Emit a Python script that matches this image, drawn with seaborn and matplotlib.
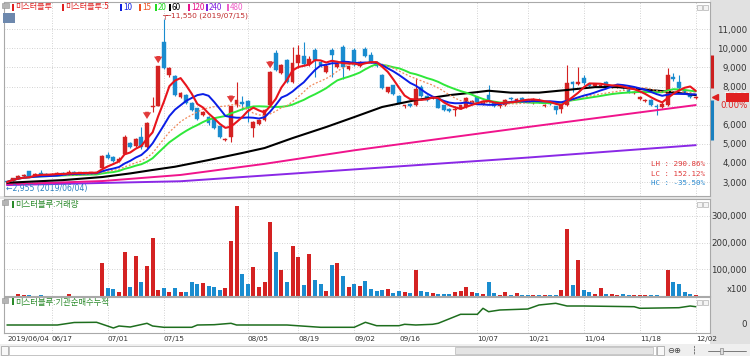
import numpy as np
import pandas as pd
import matplotlib
matplotlib.use("Agg")
import matplotlib.pyplot as plt
from matplotlib.patches import Rectangle
from matplotlib.lines import Line2D
import seaborn as sns

# ---------------- data ----------------
holidays = ["2019-06-06", "2019-08-15", "2019-09-12", "2019-09-13", "2019-10-03", "2019-10-09"]
trade_dates = [d for d in pd.bdate_range("2019-06-04", "2019-12-02")
               if d.strftime("%Y-%m-%d") not in holidays]

opens = [3040, 3050, 3200, 3300, 3580, 3340, 3480, 3420, 3380, 3400, 3480, 3420, 3520, 3450, 3520, 3470, 3520,
         3730, 4400, 4300, 4100, 4470, 5040, 4880, 5350, 4830, 6950, 6980, 10330, 8600, 8550, 7450, 7550, 7140,
         6870, 6500, 6400, 6350, 5930, 5200, 5360, 7050, 7200, 7250, 5830, 6050, 6250, 7030, 9750, 8700, 9380,
         8240, 9230, 9600, 9200, 9910, 9300, 8750, 9910, 9000, 10070, 8900, 9910, 9050, 9960, 9650, 9300, 8600,
         7710, 8080, 7500, 6980, 7100, 7030, 7950, 7500, 7400, 7400, 7030, 6800, 6750, 6820, 6930, 7150, 7450,
         7100, 7550, 7150, 7000, 7050, 7400, 7250, 7400, 7300, 7150, 7300, 7000, 7150, 6960, 6800, 7030, 8250,
         8150, 8450, 8150, 8050, 8050, 8250, 7950, 7950, 8000, 7950, 7650, 7350, 7250, 7300, 7000, 6950, 7030,
         8500, 8240, 7800, 7550, 7400]
highs = [3060, 3230, 3380, 3420, 3600, 3450, 3650, 3450, 3450, 3500, 3520, 3650, 3560, 3540, 3550, 3540, 3560,
         4400, 4570, 4380, 4300, 5450, 5100, 5300, 5880, 6150, 7450, 9070, 11550, 9000, 8600, 7700, 7600, 7200,
         6900, 6700, 6450, 6400, 5950, 5300, 7000, 8240, 7500, 7300, 6200, 6300, 6800, 8800, 9910, 9200, 9450,
         10070, 10170, 10330, 9600, 10000, 9400, 9200, 10000, 9300, 10200, 9100, 10000, 9350, 10050, 9800, 9350,
         8650, 8000, 8100, 7550, 7050, 7150, 8450, 8100, 7550, 7500, 7450, 7050, 6850, 7000, 7050, 7450, 7300,
         7500, 7300, 8080, 7200, 7150, 7350, 7450, 7400, 7450, 7350, 7400, 7400, 7100, 7200, 7000, 7050, 9130,
         8300, 9020, 8600, 8200, 8200, 8150, 8300, 8100, 8050, 8050, 8000, 7750, 7500, 7350, 7350, 7100, 7200,
         8970, 8700, 8600, 7850, 7600, 7500]
lows = [2955, 3040, 3180, 3280, 3300, 3320, 3380, 3350, 3360, 3380, 3400, 3410, 3430, 3440, 3460, 3450, 3470,
        3720, 4200, 4050, 4050, 4450, 4800, 4850, 4750, 4800, 6660, 6980, 8900, 8500, 7500, 7400, 7100, 6700,
        6250, 6450, 6000, 5800, 5300, 5150, 5100, 6950, 6770, 6140, 5360, 6000, 6200, 7000, 8800, 8650, 8200,
        8200, 8970, 9100, 9100, 8500, 9000, 8700, 8500, 8950, 8400, 8850, 9050, 9000, 9550, 9250, 9000, 7850,
        7650, 7550, 7100, 6900, 6950, 7000, 7450, 7250, 7350, 6850, 6700, 6650, 6450, 6800, 6900, 7100, 7100,
        7050, 7150, 6950, 6900, 7000, 7300, 7200, 7250, 7200, 7100, 7150, 6950, 7050, 6550, 6600, 7000, 7700,
        8100, 8100, 8000, 8000, 8000, 7950, 7900, 7900, 7850, 7650, 7600, 7300, 7200, 7000, 6510, 6900, 7000,
        8300, 7850, 7600, 7400, 7350]
closes = [3000, 3200, 3330, 3380, 3330, 3420, 3400, 3380, 3420, 3480, 3420, 3500, 3450, 3500, 3480, 3510, 3490,
          4360, 4250, 4100, 4200, 5350, 4830, 5250, 4830, 6090, 7000, 9070, 8970, 8970, 7550, 7650, 7140, 6770,
          6300, 6650, 6090, 5830, 5360, 5250, 6980, 7300, 7100, 6950, 6140, 6250, 6770, 8760, 8860, 9120, 8240,
          9230, 9650, 9200, 9450, 9390, 9150, 9100, 9650, 9200, 9020, 9050, 9130, 9300, 9600, 9300, 9050, 7920,
          7970, 7610, 7140, 7000, 7000, 7870, 7500, 7300, 7450, 6870, 6750, 6700, 6800, 7030, 7400, 7250, 7150,
          7250, 7200, 6980, 7050, 7300, 7350, 7350, 7300, 7250, 7350, 7200, 7050, 7100, 6770, 7030, 8180, 8150,
          8250, 8180, 8050, 8150, 8100, 8000, 8000, 8000, 7900, 7700, 7700, 7450, 7300, 7050, 6950, 7100, 8600,
          8400, 7920, 7650, 7450, 7450]
volumes = [1500, 1000, 7500, 3700, 3700, 1500, 3700, 1500, 1000, 1500, 1000, 6000, 1500, 1000, 1000, 1500, 1500,
           125000, 31000, 25000, 15000, 163000, 32500, 150000, 53700, 112000, 216000, 22500, 28700, 15000, 31000,
           15000, 15000, 53700, 45000, 47500, 37500, 35000, 22500, 31000, 206000, 335000, 82400, 43700, 110000,
           35000, 53700, 278000, 166000, 97400, 51000, 187000, 145000, 41000, 156000, 60000, 43700, 18700, 116000,
           122000, 75000, 33700, 43700, 37500, 56000, 25000, 20000, 22500, 25000, 12500, 18700, 15000, 10000,
           97400, 20000, 15000, 12500, 7500, 7500, 7500, 16000, 20000, 32500, 15000, 10000, 7500, 52400, 12500,
           5000, 15000, 5000, 10000, 5000, 2500, 2500, 4000, 2500, 2500, 5000, 22500, 251000, 41000, 135000,
           22500, 15000, 7500, 28700, 7500, 7500, 5000, 7500, 4000, 2500, 2500, 2500, 2500, 2500, 1000, 97400,
           53700, 45000, 13700, 7500, 5000]

ma60_idx = [0, 10, 17, 22, 26, 30, 36, 42, 46, 51, 57, 62, 67, 73, 79, 84, 86, 90, 95, 100, 105, 109, 113, 117, 120, 123]
ma60_val = [2960, 3100, 3260, 3450, 3630, 3800, 4150, 4520, 4780, 5300, 5880, 6400, 6930, 7290, 7550, 7710, 7780,
            7680, 7680, 7820, 7970, 7970, 7870, 7760, 7660, 7550]
ma120_idx = [0, 17, 31, 46, 62, 93, 123]
ma120_val = [2880, 3050, 3370, 3950, 4660, 5880, 7030]
ma240_idx = [0, 31, 62, 93, 123]
ma240_val = [2840, 3040, 3660, 4280, 4930]

inst_idx = [0, 9, 12, 16, 19, 20, 22, 25, 26, 28, 33, 34, 37, 40, 41, 50, 56, 62, 64, 66, 70, 71, 73, 76, 77,
            81, 84, 85, 86, 88, 93, 95, 98, 100, 103, 112, 113, 120, 122, 123]
inst_val = [-1500, -1500, 1000, 1200, -4500, -2500, -3500, 200, -2500, -3800, -3800, -1500, -1200, 200, -1500,
            -1500, -3800, -3800, 1200, -2200, -2200, -800, -1500, -800, 200, 9200, 9200, 15200, 11800, 13500,
            14500, 18500, 20200, 17500, 17500, 16800, 15200, 15800, 17500, 16800]

signal_idx = [25, 27, 40, 47]
date_labels = ["06/17", "07/01", "07/15", "08/05", "08/19", "09/02", "09/16", "10/07", "10/21", "11/04", "11/18", "12/02"]
price_ticks = [3000, 4000, 5000, 6000, 7000, 8000, 9000, 10000, 11000]
vol_ticks = [100000, 200000, 300000]
legend_items = [("미스터블루", "#e02020"), ("미스터블루:5", "#e02020"), ("10", "#1020e0"), ("15", "#f05020"),
                ("20", "#22dd22"), ("60", "#000000"), ("120", "#e8108a"), ("240", "#8020e0"), ("480", "#f060c8")]
legend_x = [12, 62, 120, 139, 155, 169, 188, 206, 227]

# ---------------- styling ----------------
sns.set_theme(style="white")
plt.rcParams["font.family"] = ["Noto Sans CJK KR", "DejaVu Sans"]

RED = "#d42222"
BLUE = "#1a8ccf"
GRID = "#c4c4c4"
W, H = 750, 356
fig = plt.figure(figsize=(7.5, 3.56), dpi=100)
fig.patch.set_facecolor("white")


def add_ax(x0, y0, x1, y1):
    return fig.add_axes([x0 / W, 1 - y1 / H, (x1 - x0) / W, (y1 - y0) / H])


def fx(x):
    return x / W


def fy(y):
    return 1 - y / H


def frect(x0, y0, x1, y1, fc, ec="none", lw=0.0, z=-5):
    fig.patches.append(Rectangle((fx(x0), fy(y1)), (x1 - x0) / W, (y1 - y0) / H, transform=fig.transFigure,
                                 facecolor=fc, edgecolor=ec, linewidth=lw, zorder=z))


# backgrounds
frect(710, 0, 750, 344, "#e1e1e1")
frect(0, 344, 750, 356, "#efefef")
frect(0, 196, 710, 199, "#e6e6e6")

XL = (-0.536, 125.54)
n = len(closes)
x = np.arange(n)
O = np.array(opens, float)
C = np.array(closes, float)
Hh = np.array(highs, float)
L = np.array(lows, float)
up = C >= O
cols = np.where(up, RED, BLUE)

tick_idx = [i for i, d in enumerate(trade_dates) if d.strftime("%m/%d") in date_labels]


def style_ax(ax):
    ax.set_facecolor("white")
    ax.set_xlim(*XL)
    ax.set_xticks(tick_idx)
    ax.set_xticklabels([])
    ax.tick_params(axis="x", length=0)
    ax.grid(True, axis="x", color=GRID, lw=0.6, linestyle=(0, (1, 2)))
    for s in ax.spines.values():
        s.set_color("#a9a9a9")
        s.set_linewidth(0.8)
    ax.set_xlabel("")
    ax.set_ylabel("")


# ---------------- price panel ----------------
axp = add_ax(4, 2, 710, 196)
style_ax(axp)
axp.set_ylim(2267, 12428)
axp.set_yticks(price_ticks)
axp.grid(True, axis="y", color=GRID, lw=0.6, linestyle=(0, (1, 2)))
axp.yaxis.tick_right()
axp.set_yticklabels(["" if v == 7000 else f"{v:,}" for v in price_ticks], family="DejaVu Sans")
axp.tick_params(axis="y", length=0, pad=26.5, labelsize=6.2, labelcolor="#333333")
for lb in axp.get_yticklabels():
    lb.set_horizontalalignment("right")

axp.vlines(x, L, Hh, colors=cols, lw=0.8, zorder=2)
body_bot = np.minimum(O, C)
body_h = np.maximum(np.abs(C - O), 30)
axp.bar(x, body_h, bottom=body_bot, width=0.68, color=cols, edgecolor=cols, lw=0.3, zorder=3)

cs = pd.Series(C)
ma5 = cs.rolling(5, min_periods=1).mean()
ma10 = cs.rolling(10, min_periods=1).mean()
ma15 = cs.rolling(15, min_periods=1).mean()
ma20 = cs.rolling(20, min_periods=1).mean()

sns.lineplot(x=ma240_idx, y=ma240_val, color="#8a28e6", lw=1.4, ax=axp, zorder=4)
sns.lineplot(x=ma120_idx, y=ma120_val, color="#f0148c", lw=1.4, ax=axp, zorder=4)
sns.lineplot(x=ma60_idx, y=ma60_val, color="#000000", lw=1.5, ax=axp, zorder=4)
sns.lineplot(x=x, y=ma20.values, color="#2fe83a", lw=1.4, ax=axp, zorder=5)
sns.lineplot(x=x, y=ma15.values, color="#f0885a", lw=0.9, linestyle=(0, (1.5, 1.5)), ax=axp, zorder=5)
sns.lineplot(x=x, y=ma10.values, color="#0a1ee6", lw=1.4, ax=axp, zorder=6)
sns.lineplot(x=x, y=ma5.values, color="#e8141c", lw=1.5, ax=axp, zorder=7)
axp.set_xlim(*XL)
axp.set_ylim(2267, 12428)
axp.set_xlabel("")
axp.set_ylabel("")

for i in signal_idx:
    tip = highs[i] + 150
    axp.annotate("", xy=(i, tip), xytext=(i, tip + 380),
                 arrowprops=dict(arrowstyle="simple,head_length=0.4,head_width=0.5,tail_width=0.22",
                                 color="#e23a3a", lw=0, shrinkA=0, shrinkB=0), zorder=8)

# price range bar at right edge
axp.plot([125.9, 125.9], [9650, 7900], color="#cc2020", lw=2.2, clip_on=False, zorder=9, solid_capstyle="butt")
axp.plot([125.9, 125.9], [7300, 5200], color="#1a80c0", lw=2.2, clip_on=False, zorder=9, solid_capstyle="butt")
axp.plot([126.4], [closes[-1]], marker="<", color="#dd2020", ms=4, clip_on=False, zorder=9)

# ---------------- volume panel ----------------
axv = add_ax(4, 199, 710, 296)
vdf = pd.DataFrame({"i": x, "vol": volumes, "dir": np.where(up, "up", "down")})
sns.barplot(data=vdf, x="i", y="vol", hue="dir", palette={"up": RED, "down": BLUE}, native_scale=True,
            dodge=False, width=0.72, saturation=1, legend=False, errorbar=None, linewidth=0, ax=axv)
style_ax(axv)
axv.set_ylim(0, 363000)
axv.set_yticks(vol_ticks)
axv.grid(True, axis="y", color=GRID, lw=0.6, linestyle=(0, (1, 2)))
axv.yaxis.tick_right()
axv.set_yticklabels([f"{v:,}" for v in vol_ticks], family="DejaVu Sans")
axv.tick_params(axis="y", length=0, pad=26.5, labelsize=6.2, labelcolor="#333333")
for lb in axv.get_yticklabels():
    lb.set_horizontalalignment("right")

# ---------------- institution cumulative panel ----------------
axi = add_ax(4, 297, 710, 333)
sns.lineplot(x=inst_idx, y=inst_val, color="#1e6e1e", lw=1.1, ax=axi)
style_ax(axi)
axi.set_ylim(-9500, 26500)
axi.set_yticks([0])
axi.yaxis.tick_right()
axi.set_yticklabels(["0"], family="DejaVu Sans")
axi.tick_params(axis="y", length=0, pad=26.5, labelsize=6.2, labelcolor="#333333")
for lb in axi.get_yticklabels():
    lb.set_horizontalalignment("right")

# ---------------- texts ----------------
def ftxt(xp, yp, s, **kw):
    kw.setdefault("va", "center")
    return fig.text(fx(xp), fy(yp), s, **kw)


# top legend
frect(2, 3, 9, 8, "#b4b4b4", "#909090", 0.4, z=5)
for (lab, colr), xp in zip(legend_items, legend_x):
    frect(xp, 4.0, xp + 2, 10.5, colr, z=5)
    ftxt(xp + 3, 7.0, lab, color=colr, fontsize=5.8)

frect(3, 13, 15, 23, "#6d88ad", z=5)
ftxt(9, 18, "文", color="white", fontsize=6, ha="center")

# high / low markers
ftxt(162, 16.0, "┬─11,550 (2019/07/15)", color="#c02c2c", fontsize=5.4, family="DejaVu Sans")
ftxt(6, 189, "←2,955 (2019/06/04)", color="#2a7fc0", fontsize=5.6, family="DejaVu Sans")

# LH / LC / HC
ftxt(705, 164, "LH : 290.86%", color="#e03a3a", fontsize=5.4, family="DejaVu Sans Mono", ha="right")
ftxt(705, 173.5, "LC : 152.12%", color="#e03a3a", fontsize=5.4, family="DejaVu Sans Mono", ha="right")
ftxt(705, 183, "HC : -35.50%", color="#2a8ad0", fontsize=5.4, family="DejaVu Sans Mono", ha="right")

# current price box
frect(726, 92.5, 749, 101.5, "#e02020", z=5)
ftxt(747.5, 97, f"{closes[-1]:,}", color="white", fontsize=6.2, ha="right", family="DejaVu Sans")
ftxt(747.5, 106, "0.00%", color="#e02020", fontsize=6.2, ha="right", family="DejaVu Sans")

# panel headers
for yy in (203, 301):
    frect(2, yy - 3, 8, yy + 2, "#b4b4b4", "#909090", 0.4, z=5)
frect(12, 201, 14, 208, "#2a8a2a", z=5)
ftxt(15, 205, "미스터블루:거래량", color="#2a8a2a", fontsize=6.0)
frect(12, 298, 14, 305, "#2a8a2a", z=5)
ftxt(15, 302, "미스터블루:기관순매수누적", color="#2a8a2a", fontsize=6.0)

# small corner icons
for yy in (5, 202, 300):
    frect(697, yy, 702, yy + 5, "#f4f4f4", "#a0a0a0", 0.4, z=5)
    frect(703, yy, 708, yy + 5, "#f4f4f4", "#a0a0a0", 0.4, z=5)

ftxt(747.5, 290, "x100", color="#333333", fontsize=6.0, ha="right", family="DejaVu Sans")

# date labels
ftxt(7, 339, "2019/06/04", color="#333333", fontsize=5.2, family="DejaVu Sans")
for lab, i in zip(date_labels, tick_idx):
    ftxt(7 + 5.6 * i, 339, lab, color="#333333", fontsize=5.2, family="DejaVu Sans")

# scroll bar
frect(1, 346, 8, 355, "#f8f8f8", "#9a9a9a", 0.5, z=5)
ftxt(4.5, 350.5, "◂", color="#222222", fontsize=5, ha="center", family="DejaVu Sans")
frect(9, 346, 656, 355, "white", "#b0b0b0", 0.5, z=5)
frect(455, 346.6, 653, 354.4, "#e4e4e4", "#b8b8b8", 0.5, z=6)
frect(657, 346, 664, 355, "#f8f8f8", "#9a9a9a", 0.5, z=5)
ftxt(660.5, 350.5, "▸", color="#222222", fontsize=5, ha="center", family="DejaVu Sans")
ftxt(667, 350.5, "⊖⊕", color="#444444", fontsize=6, family="DejaVu Sans")
ftxt(692, 350.5, "┆", color="#444444", fontsize=6, family="DejaVu Sans")
fig.lines.append(Line2D([fx(708), fx(746)], [fy(350.5), fy(350.5)], transform=fig.transFigure,
                        color="#666666", lw=0.6))
frect(720, 347.5, 723, 353.5, "#dddddd", "#777777", 0.4, z=6)

fig.savefig("out.png", dpi=100, facecolor="white")
